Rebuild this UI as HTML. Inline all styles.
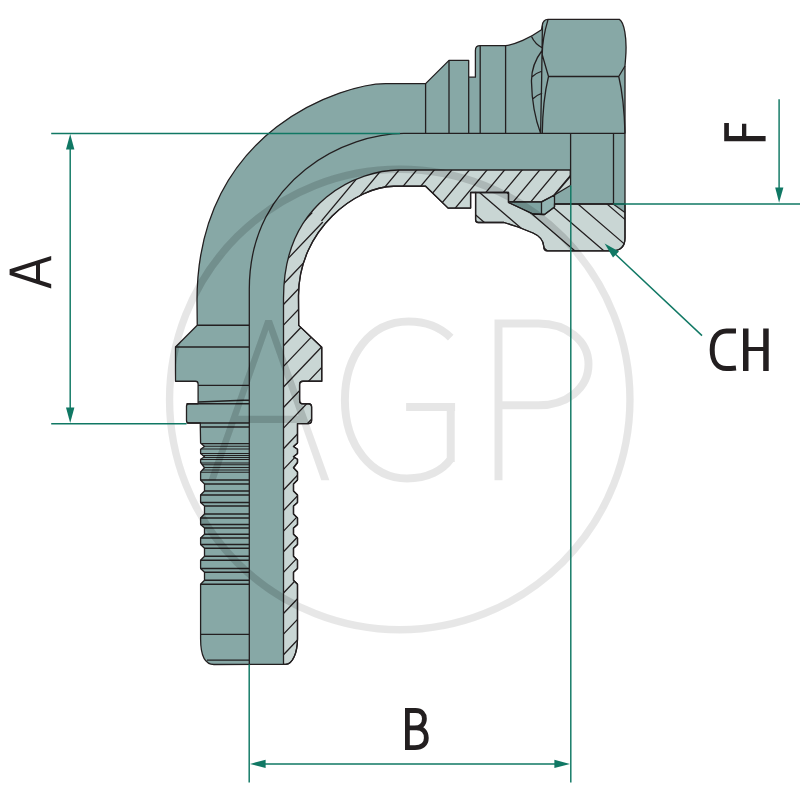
<!DOCTYPE html>
<html><head><meta charset="utf-8"><style>
html,body{margin:0;padding:0;background:#fff;}
svg{display:block;}
text{font-family:"Liberation Sans",sans-serif;}
</style></head><body>
<svg width="800" height="800" viewBox="0 0 800 800">
<defs>
<clipPath id="cb"><path d="M398.8,170 L570.3,170 L570.3,176.5 L554.5,195 L541.5,201.8 L508.5,201.8 L508.5,192.5 L470.6,192.5 L470.6,208.1 L448.1,208.1 L425.6,186.25 L393.8,186.25 C356.7,186.25 298.5,229 298.5,295.8 L298.7,325.4 L321.75,347.3 L321.75,381.25 L303,381.25 Q299.6,381.25 299.6,384.6 L299.6,400.5 Q299.6,403.75 303,403.75 L308.4,403.75 Q311.6,403.75 311.6,407 L311.6,420.3 Q311.6,423.6 308.3,423.6 L297.5,423.6 L297.5,443 L293.5,446.5 L297.5,449.25 L297.5,453.5 L293.5,456.75 L297.5,459.25 L297.5,462.5 L293.5,467.75 L297.5,472 L297.5,480 L293.5,484 L293.5,491 L297.5,495 L297.5,502.5 L293.5,506 L293.5,514 L297.5,518 L297.5,524.5 L293.5,528 L293.5,534.25 L297.5,538 L297.5,544.5 L293.5,548.25 L293.5,556.25 L297.5,560.25 L297.5,568.5 L293.5,572.25 L293.5,580.25 L297.5,584.25 L297.5,639 C297.4,652 293,664.4 285.5,664.4 L283.5,664.4 L283.5,298.35 C283.5,199.08 359.96,170 398.8,170 Z"/></clipPath>
<clipPath id="ct"><path d="M0,-72 L800,657 L800,-100 L0,-100 Z"/></clipPath>
<clipPath id="cs"><path d="M0,-72 L800,657 L800,800 L0,800 Z"/></clipPath>
<clipPath id="cn"><path d="M475.6,192.5 L508.5,192.5 L508.5,202.5 L533,214 L544.5,214.5 L554.5,207 L554.5,204 L625,204 L625,238 Q625,250.8 612,250.8 L547.5,250.8 Q543.8,250.8 543.8,246.5 Q543.3,237.5 533,233 L518,227 L504,222.5 L478.3,222.5 Q475.6,222.5 475.6,219.8 Z"/></clipPath>
<clipPath id="csil"><path d="M385.6,83.6 L425.6,83.6 L449,60.4 L468.7,60.4 L468.7,77.2 L475.4,77.2 L475.4,50.5 Q475.4,45.7 480.2,45.7 L505.6,45.7 C515,44.5 530,38 541.5,29.8 L542.3,25.5 Q543,19.4 548,19.4 L619.4,19.4 C624,22 627.3,38 625.6,58 L625,66 L625,238 Q625,250.8 612,250.8 L547.5,250.8 Q543.8,250.8 543.8,246.5 Q543.3,237.5 533,233 L518,227 L504,222.5 L478.3,222.5 Q475.6,222.5 475.6,219.8 L475.6,192.5 L470.6,192.5 L470.6,208.1 L448.1,208.1 L425.6,186.25 L393.8,186.25 C356.7,186.25 298.5,229 298.5,295.8 L298.7,325.4 L321.75,347.3 L321.75,381.25 L303,381.25 Q299.6,381.25 299.6,384.6 L299.6,400.5 Q299.6,403.75 303,403.75 L308.4,403.75 Q311.6,403.75 311.6,407 L311.6,420.3 Q311.6,423.6 308.3,423.6 L297.5,423.6 L297.5,443 L293.5,446.5 L297.5,449.25 L297.5,453.5 L293.5,456.75 L297.5,459.25 L297.5,462.5 L293.5,467.75 L297.5,472 L297.5,480 L293.5,484 L293.5,491 L297.5,495 L297.5,502.5 L293.5,506 L293.5,514 L297.5,518 L297.5,524.5 L293.5,528 L293.5,534.25 L297.5,538 L297.5,544.5 L293.5,548.25 L293.5,556.25 L297.5,560.25 L297.5,568.5 L293.5,572.25 L293.5,580.25 L297.5,584.25 L297.5,639 C297.4,652 293,664.4 285.5,664.4 L214,664.5 C205,664.5 200.6,655 200.6,639  L200.6,639 L200.6,584.25 L204.5,580.25 L204.5,572.25 L200.6,568.5 L200.6,560.25 L204.5,556.25 L204.5,548.25 L200.6,544.5 L200.6,538 L204.5,534.25 L204.5,528 L200.6,524.5 L200.6,518 L204.5,514 L204.5,506 L200.6,502.5 L200.6,495 L204.5,491 L204.5,484 L200.6,480 L200.6,472 L204.5,467.75 L200.6,462.5 L200.6,459.25 L204.5,456.75 L200.6,453.5 L200.6,449.25 L204.5,446.5 L200.6,443 L200.3,426.8 L200.3,423 L189,423 Q186.5,423 186.5,420.5 L186.5,406.3 Q186.5,403.75 189,403.75 L198.1,403.75 L198.1,384 Q198.1,381.25 195.5,381.25 L175.5,381.25 L175.5,347 L197.25,325.25  L197,300.7 C197,127 346.2,83.6 385.6,83.6 Z"/></clipPath>
</defs>
<rect width="800" height="800" fill="#fff"/>
<path d="M385.6,83.6 L425.6,83.6 L449,60.4 L468.7,60.4 L468.7,77.2 L475.4,77.2 L475.4,50.5 Q475.4,45.7 480.2,45.7 L505.6,45.7 C515,44.5 530,38 541.5,29.8 L542.3,25.5 Q543,19.4 548,19.4 L619.4,19.4 C624,22 627.3,38 625.6,58 L625,66 L625,238 Q625,250.8 612,250.8 L547.5,250.8 Q543.8,250.8 543.8,246.5 Q543.3,237.5 533,233 L518,227 L504,222.5 L478.3,222.5 Q475.6,222.5 475.6,219.8 L475.6,192.5 L470.6,192.5 L470.6,208.1 L448.1,208.1 L425.6,186.25 L393.8,186.25 C356.7,186.25 298.5,229 298.5,295.8 L298.7,325.4 L321.75,347.3 L321.75,381.25 L303,381.25 Q299.6,381.25 299.6,384.6 L299.6,400.5 Q299.6,403.75 303,403.75 L308.4,403.75 Q311.6,403.75 311.6,407 L311.6,420.3 Q311.6,423.6 308.3,423.6 L297.5,423.6 L297.5,443 L293.5,446.5 L297.5,449.25 L297.5,453.5 L293.5,456.75 L297.5,459.25 L297.5,462.5 L293.5,467.75 L297.5,472 L297.5,480 L293.5,484 L293.5,491 L297.5,495 L297.5,502.5 L293.5,506 L293.5,514 L297.5,518 L297.5,524.5 L293.5,528 L293.5,534.25 L297.5,538 L297.5,544.5 L293.5,548.25 L293.5,556.25 L297.5,560.25 L297.5,568.5 L293.5,572.25 L293.5,580.25 L297.5,584.25 L297.5,639 C297.4,652 293,664.4 285.5,664.4 L214,664.5 C205,664.5 200.6,655 200.6,639  L200.6,639 L200.6,584.25 L204.5,580.25 L204.5,572.25 L200.6,568.5 L200.6,560.25 L204.5,556.25 L204.5,548.25 L200.6,544.5 L200.6,538 L204.5,534.25 L204.5,528 L200.6,524.5 L200.6,518 L204.5,514 L204.5,506 L200.6,502.5 L200.6,495 L204.5,491 L204.5,484 L200.6,480 L200.6,472 L204.5,467.75 L200.6,462.5 L200.6,459.25 L204.5,456.75 L200.6,453.5 L200.6,449.25 L204.5,446.5 L200.6,443 L200.3,426.8 L200.3,423 L189,423 Q186.5,423 186.5,420.5 L186.5,406.3 Q186.5,403.75 189,403.75 L198.1,403.75 L198.1,384 Q198.1,381.25 195.5,381.25 L175.5,381.25 L175.5,347 L197.25,325.25  L197,300.7 C197,127 346.2,83.6 385.6,83.6 Z" fill="#87a8a6"/>
<path d="M398.8,170 L570.3,170 L570.3,176.5 L554.5,195 L541.5,201.8 L508.5,201.8 L508.5,192.5 L470.6,192.5 L470.6,208.1 L448.1,208.1 L425.6,186.25 L393.8,186.25 C356.7,186.25 298.5,229 298.5,295.8 L298.7,325.4 L321.75,347.3 L321.75,381.25 L303,381.25 Q299.6,381.25 299.6,384.6 L299.6,400.5 Q299.6,403.75 303,403.75 L308.4,403.75 Q311.6,403.75 311.6,407 L311.6,420.3 Q311.6,423.6 308.3,423.6 L297.5,423.6 L297.5,443 L293.5,446.5 L297.5,449.25 L297.5,453.5 L293.5,456.75 L297.5,459.25 L297.5,462.5 L293.5,467.75 L297.5,472 L297.5,480 L293.5,484 L293.5,491 L297.5,495 L297.5,502.5 L293.5,506 L293.5,514 L297.5,518 L297.5,524.5 L293.5,528 L293.5,534.25 L297.5,538 L297.5,544.5 L293.5,548.25 L293.5,556.25 L297.5,560.25 L297.5,568.5 L293.5,572.25 L293.5,580.25 L297.5,584.25 L297.5,639 C297.4,652 293,664.4 285.5,664.4 L283.5,664.4 L283.5,298.35 C283.5,199.08 359.96,170 398.8,170 Z" fill="#c9d6d4"/>
<path d="M475.6,192.5 L508.5,192.5 L508.5,202.5 L533,214 L544.5,214.5 L554.5,207 L554.5,204 L625,204 L625,238 Q625,250.8 612,250.8 L547.5,250.8 Q543.8,250.8 543.8,246.5 Q543.3,237.5 533,233 L518,227 L504,222.5 L478.3,222.5 Q475.6,222.5 475.6,219.8 Z" fill="#c9d6d4"/>
<path d="M570.3,176.5 L570.3,185.5 L554.5,195 Z" fill="#c9d6d4"/>
<path d="M508.5,201.8 L541.5,201.8 L541.5,214.3 L533,214 L508.5,202.5 Z" fill="#7fa4a2"/>
<path d="M541.5,201.8 L554.5,195 L554.5,207 L544.5,214.5 L541.5,214.3 Z" fill="#93b4b2"/>
<path d="M613.5,204 L625,204 L625,212.5 Z" fill="#87a8a6"/>
<g stroke="#231f20" stroke-width="1.3" fill="none" stroke-linejoin="round">
<g clip-path="url(#cb)"><path clip-path="url(#ct)" d="M150,342.3 L700,-317.7 M150,363.4 L700,-296.6 M150,384.5 L700,-275.5 M150,405.6 L700,-254.4 M150,426.7 L700,-233.3 M150,447.8 L700,-212.2 M150,468.9 L700,-191.1 M150,490 L700,-170 M150,511.1 L700,-148.9 M150,532.2 L700,-127.8 M150,553.3 L700,-106.7 M150,574.4 L700,-85.6 M150,595.5 L700,-64.5 M150,616.6 L700,-43.4 M150,637.7 L700,-22.3 M150,658.8 L700,-1.2 M150,679.9 L700,19.9 M150,701 L700,41"/><path clip-path="url(#cs)" d="M150,321.1 L700,-256.4 M150,341.7 L700,-235.8 M150,362.3 L700,-215.2 M150,382.9 L700,-194.6 M150,403.5 L700,-174 M150,424.1 L700,-153.4 M150,444.7 L700,-132.8 M150,465.3 L700,-112.2 M150,485.9 L700,-91.6 M150,506.5 L700,-71 M150,527.1 L700,-50.4 M150,547.7 L700,-29.8 M150,568.3 L700,-9.2 M150,588.9 L700,11.4 M150,609.5 L700,32 M150,630.1 L700,52.6 M150,650.7 L700,73.2 M150,671.3 L700,93.8 M150,691.9 L700,114.4 M150,712.5 L700,135 M150,733.1 L700,155.6 M150,753.7 L700,176.2 M150,774.3 L700,196.8 M150,794.9 L700,217.4 M150,815.5 L700,238 M150,836.1 L700,258.6"/></g>
<path clip-path="url(#cn)" d="M450,192.9 L650,364.9 M450,167.1 L650,339.1 M450,143.5 L650,315.5 M450,118.5 L650,290.5 M450,94 L650,266 M450,69 L650,241"/>
<path d="M385.6,83.6 L425.6,83.6 L449,60.4 L468.7,60.4 L468.7,77.2 L475.4,77.2 L475.4,50.5 Q475.4,45.7 480.2,45.7 L505.6,45.7 C515,44.5 530,38 541.5,29.8 L542.3,25.5 Q543,19.4 548,19.4 L619.4,19.4 C624,22 627.3,38 625.6,58 L625,66 L625,238 Q625,250.8 612,250.8 L547.5,250.8 Q543.8,250.8 543.8,246.5 Q543.3,237.5 533,233 L518,227 L504,222.5 L478.3,222.5 Q475.6,222.5 475.6,219.8 L475.6,192.5 L470.6,192.5 L470.6,208.1 L448.1,208.1 L425.6,186.25 L393.8,186.25 C356.7,186.25 298.5,229 298.5,295.8 L298.7,325.4 L321.75,347.3 L321.75,381.25 L303,381.25 Q299.6,381.25 299.6,384.6 L299.6,400.5 Q299.6,403.75 303,403.75 L308.4,403.75 Q311.6,403.75 311.6,407 L311.6,420.3 Q311.6,423.6 308.3,423.6 L297.5,423.6 L297.5,443 L293.5,446.5 L297.5,449.25 L297.5,453.5 L293.5,456.75 L297.5,459.25 L297.5,462.5 L293.5,467.75 L297.5,472 L297.5,480 L293.5,484 L293.5,491 L297.5,495 L297.5,502.5 L293.5,506 L293.5,514 L297.5,518 L297.5,524.5 L293.5,528 L293.5,534.25 L297.5,538 L297.5,544.5 L293.5,548.25 L293.5,556.25 L297.5,560.25 L297.5,568.5 L293.5,572.25 L293.5,580.25 L297.5,584.25 L297.5,639 C297.4,652 293,664.4 285.5,664.4 L214,664.5 C205,664.5 200.6,655 200.6,639  L200.6,639 L200.6,584.25 L204.5,580.25 L204.5,572.25 L200.6,568.5 L200.6,560.25 L204.5,556.25 L204.5,548.25 L200.6,544.5 L200.6,538 L204.5,534.25 L204.5,528 L200.6,524.5 L200.6,518 L204.5,514 L204.5,506 L200.6,502.5 L200.6,495 L204.5,491 L204.5,484 L200.6,480 L200.6,472 L204.5,467.75 L200.6,462.5 L200.6,459.25 L204.5,456.75 L200.6,453.5 L200.6,449.25 L204.5,446.5 L200.6,443 L200.3,426.8 L200.3,423 L189,423 Q186.5,423 186.5,420.5 L186.5,406.3 Q186.5,403.75 189,403.75 L198.1,403.75 L198.1,384 Q198.1,381.25 195.5,381.25 L175.5,381.25 L175.5,347 L197.25,325.25  L197,300.7 C197,127 346.2,83.6 385.6,83.6 Z"/>
<path d="M398.8,170 L570.3,170 L570.3,176.5 L554.5,195 L541.5,201.8 L508.5,201.8 L508.5,192.5 L470.6,192.5 L470.6,208.1 L448.1,208.1 L425.6,186.25 L393.8,186.25 C356.7,186.25 298.5,229 298.5,295.8 L298.7,325.4 L321.75,347.3 L321.75,381.25 L303,381.25 Q299.6,381.25 299.6,384.6 L299.6,400.5 Q299.6,403.75 303,403.75 L308.4,403.75 Q311.6,403.75 311.6,407 L311.6,420.3 Q311.6,423.6 308.3,423.6 L297.5,423.6 L297.5,443 L293.5,446.5 L297.5,449.25 L297.5,453.5 L293.5,456.75 L297.5,459.25 L297.5,462.5 L293.5,467.75 L297.5,472 L297.5,480 L293.5,484 L293.5,491 L297.5,495 L297.5,502.5 L293.5,506 L293.5,514 L297.5,518 L297.5,524.5 L293.5,528 L293.5,534.25 L297.5,538 L297.5,544.5 L293.5,548.25 L293.5,556.25 L297.5,560.25 L297.5,568.5 L293.5,572.25 L293.5,580.25 L297.5,584.25 L297.5,639 C297.4,652 293,664.4 285.5,664.4 L283.5,664.4 L283.5,298.35 C283.5,199.08 359.96,170 398.8,170 Z"/>
<path d="M475.6,192.5 L508.5,192.5 L508.5,202.5 L533,214 L544.5,214.5 L554.5,207 L554.5,204 L625,204 L625,238 Q625,250.8 612,250.8 L547.5,250.8 Q543.8,250.8 543.8,246.5 Q543.3,237.5 533,233 L518,227 L504,222.5 L478.3,222.5 Q475.6,222.5 475.6,219.8 Z"/>
<path d="M508.5,201.8 L541.5,201.8 L554.5,195 L554.5,207 L544.5,214.5 L533,214 L508.5,202.5 Z"/>
<path d="M625,133.4 L403.9,133.4  M249.3,289.2 C249.3,176.85 348.3,133.4 403.9,133.4 L625,133.4 M249.3,289.2 L249.3,664.5 M425.6,83.6 L425.6,133.4 M449,60.4 L449,133.4 M468.7,77.2 L468.7,133.4 M480.2,45.7 L480.2,133.4 M505.6,45.7 L505.6,133.4 M542.4,25.5 Q541.8,80 540.6,133.4 M531.5,36.5 Q535,44 542.4,48 M542.4,50 Q531,65 531.5,82 Q532,110 540.6,133.4 M531.8,77 Q536,73 542.2,71 M532.6,99 Q537,95 542.2,93 M548,19.6 Q542,40 542.3,55 Q546,68 548.5,76.5 C544,95 542.5,115 542.3,133.4 M548.5,76.5 L618.75,76.5 M618.75,76.5 L625,66 M618.75,76.5 C622.5,92 624.5,115 625,133.4 M570.6,133.4 L570.6,185.5 M613.5,133.4 L613.5,204 M554.5,204 L613.5,204 M570.3,185.5 L554.5,195 M541.5,201.8 L541.5,214.3 M613.5,204.3 L625,212.5 M197.25,325.25 L249.5,325.25 M175.5,347 L249.5,347 M198.1,385.4 L249.5,385.4 M198.1,402 L249.5,400 M186.5,403.75 L249.5,403.75 M186.5,423 L249.5,423 M200.3,427 L249.5,427 M200.6,480 L249.5,480 M204.5,484 L249.5,484 M204.5,491 L249.5,491 M200.6,495 L249.5,495 M200.6,502.5 L249.5,502.5 M204.5,506 L249.5,506 M204.5,514 L249.5,514 M200.6,518 L249.5,518 M200.6,524.5 L249.5,524.5 M204.5,528 L249.5,528 M204.5,534.25 L249.5,534.25 M200.6,538 L249.5,538 M200.6,544.5 L249.5,544.5 M204.5,548.25 L249.5,548.25 M204.5,556.25 L249.5,556.25 M200.6,560.25 L249.5,560.25 M200.6,568.5 L249.5,568.5 M204.5,572.25 L249.5,572.25 M204.5,580.25 L249.5,580.25 M200.6,584.25 L249.5,584.25 M200.6,634.3 L249.5,634.3 M207,660.15 L249.5,660.15"/>
<path clip-path="url(#csil)" stroke-width="1.05" d="M200.5,443.6 L249.5,443.6 M200.5,446.3 L249.5,446.3 M200.5,448.9 L249.5,448.9 M200.5,453.4 L249.5,453.4 M200.5,455.4 L249.5,455.4 M200.5,457.4 L249.5,457.4 M200.5,459.4 L249.5,459.4 M200.5,463 L249.5,463 M200.5,464.8 L249.5,464.8 M200.5,467.5 L249.5,467.5 M200.5,470 L249.5,470 M200.5,472.2 L249.5,472.2"/>
</g>

<g opacity="0.095"><circle cx="399.75" cy="399.5" r="230.2" fill="none" stroke="#000" stroke-width="7.4"/>
<path d="M265.3,320 L271.9,320 L329.4,480.3 L321.25,480.3 L268.4,330 L215.6,480.3 L208.4,480.3 Z M234,415.75 L304,415.75 L304,423 L234,423 Z" fill="#000"/>
<path d="M450.75,337.6 C440,327 425,321.5 408.5,321.5 C370,321.5 344.9,356 344.9,400 C344.9,446 372,478.4 407,478.4 C428,478.4 443,470 450.75,459 M450.75,462 L450.75,403.1 M406.1,406.9 L455.1,406.9" fill="none" stroke="#000" stroke-width="8"/>
<path d="M498.5,319.5 L498.5,480.3 M498.5,323.5 L538.5,323.5 C566,323.5 588.5,340 588.5,364.35 C588.5,389 566,405.2 538.5,405.2 L498.5,405.2" fill="none" stroke="#000" stroke-width="8"/></g>
<g opacity="0.05" clip-path="url(#csil)"><circle cx="399.75" cy="399.5" r="230.2" fill="none" stroke="#000" stroke-width="7.4"/>
<path d="M265.3,320 L271.9,320 L329.4,480.3 L321.25,480.3 L268.4,330 L215.6,480.3 L208.4,480.3 Z M234,415.75 L304,415.75 L304,423 L234,423 Z" fill="#000"/>
<path d="M450.75,337.6 C440,327 425,321.5 408.5,321.5 C370,321.5 344.9,356 344.9,400 C344.9,446 372,478.4 407,478.4 C428,478.4 443,470 450.75,459 M450.75,462 L450.75,403.1 M406.1,406.9 L455.1,406.9" fill="none" stroke="#000" stroke-width="8"/>
<path d="M498.5,319.5 L498.5,480.3 M498.5,323.5 L538.5,323.5 C566,323.5 588.5,340 588.5,364.35 C588.5,389 566,405.2 538.5,405.2 L498.5,405.2" fill="none" stroke="#000" stroke-width="8"/></g><g stroke="#107864" stroke-width="1.45" fill="none">
<path d="M51.2,133.4 L400,133.4 M51.2,423.7 L186.5,423.7 M70.2,148 L70.2,408"/>
<path d="M249.2,664.25 L249.2,782.5 M570.8,185.5 L570.8,782.5 M264,763.9 L556,763.9"/>
<path d="M613.5,204 L800,204 M779.1,99.3 L779.1,190"/>
<path d="M702,335.6 L612,251"/>
</g>
<g fill="#107864">
<path d="M70.2,134 L74.4,149.5 L66,149.5 Z"/>
<path d="M70.2,423 L74.4,407.5 L66,407.5 Z"/>
<path d="M250,763.9 L265.6,759.8 L265.6,768 Z"/>
<path d="M570,763.9 L554.4,759.8 L554.4,768 Z"/>
<path d="M779.1,202.8 L775.2,187.6 L783.4,187.6 Z"/>
<path d="M604.6,243.5 L619,251.5 L613,257.5 Z"/>
</g>
<g fill="#231f20">
<path d="M9.6,269.3 L51.2,255.9 L51.2,260.3 L14.2,272.2 L51.2,284.1 L51.2,288.5 L9.6,275.1 Z M36,262 L40,262 L40,282.5 L36,282.5 Z"/>
<path d="M724.2,136 L765.6,136 L765.6,141.25 L724.2,141.25 Z M724.2,122.9 L728.9,122.9 L728.9,137 L724.2,137 Z M742,123.75 L746.3,123.75 L746.3,137 L742,137 Z"/>
<path d="M743,328.5 L748.5,328.5 L748.5,371 L743,371 Z M763.2,328.5 L768.7,328.5 L768.7,371 L763.2,371 Z M746,347 L766,347 L766,351 L746,351 Z"/>
</g>
<g fill="none" stroke="#231f20" stroke-width="5">
<path d="M736,331 C731,330.9 728.5,330.9 726.5,330.9 C717.5,330.9 712.2,338.5 712.2,349.75 C712.2,361.5 717.5,368.6 726.5,368.6 C729,368.6 732,368.4 736,367.9"/>
</g>
<g fill="none" stroke="#231f20" stroke-width="4.8">
<path d="M407.4,708.1 L407.4,750 M407.4,710.5 L415.5,710.5 C421.8,710.5 424.4,714 424.4,718.7 C424.4,724.3 420.5,727.9 414.5,727.9 L407.4,727.9 M414.5,727.9 L416.5,727.9 C423,727.9 426.3,732.2 426.3,738 C426.3,744.3 422,747.6 415,747.6 L405,747.6"/>
</g>
</svg></body></html>
